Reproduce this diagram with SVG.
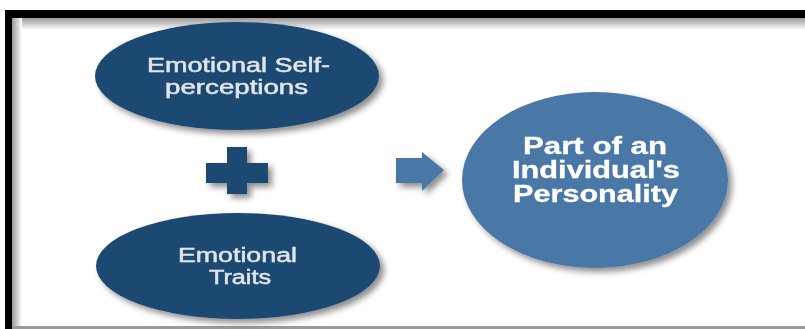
<svg xmlns="http://www.w3.org/2000/svg" width="805" height="329" viewBox="0 0 805 329">
<defs>
<linearGradient id="gt" x1="0" y1="0" x2="0" y2="1"><stop offset="0" stop-color="#9a9a9a"/><stop offset="1" stop-color="#ffffff"/></linearGradient>
<linearGradient id="gl" x1="0" y1="0" x2="1" y2="0"><stop offset="0" stop-color="#9a9a9a"/><stop offset="1" stop-color="#ffffff"/></linearGradient>
<filter id="sh" x="-20%" y="-20%" width="150%" height="150%"><feGaussianBlur in="SourceAlpha" stdDeviation="3"/><feOffset dx="4" dy="4"/><feComponentTransfer><feFuncA type="linear" slope="0.45"/></feComponentTransfer><feMerge><feMergeNode/><feMergeNode in="SourceGraphic"/></feMerge></filter>
<style>
.dark{fill:#1f4a72}
.light{fill:#4a77a6}
.t{font-family:"Liberation Sans",Arial,sans-serif;text-anchor:middle}
.tl{font-size:20px;fill:#e2e6ea;stroke:#e2e6ea;stroke-width:0.5}
.tb{font-size:23px;font-weight:bold;fill:#ffffff;stroke:#ffffff;stroke-width:0.3}
</style>
</defs>
<rect width="805" height="329" fill="#ffffff"/>
<rect x="12" y="18" width="793" height="12" fill="url(#gt)"/>
<rect x="12" y="18" width="10" height="311" fill="url(#gl)"/>
<rect x="5" y="10" width="800" height="8" fill="#000"/>
<rect x="5" y="10" width="7" height="319" fill="#000"/>
<rect x="12" y="326" width="793" height="3" fill="#9a9a9a"/>
<g id="node-selfperceptions" filter="url(#sh)">
<ellipse class="dark" cx="237" cy="76" rx="142" ry="54"/>
<g transform="translate(237.5,0) scale(1.36,1)">
<text class="t tl" x="0.7" y="72" textLength="134.6" lengthAdjust="spacingAndGlyphs">Emotional Self-</text>
<text class="t tl" x="-0.7" y="94" textLength="105.1" lengthAdjust="spacingAndGlyphs">perceptions</text>
</g>
</g>
<g id="node-plus" filter="url(#sh)">
<path class="dark" d="M227,147H247V163H268V183H247V194H227V183H206V163H227Z"/>
</g>
<g id="node-traits" filter="url(#sh)">
<ellipse class="dark" cx="238" cy="266" rx="142" ry="53"/>
<g transform="translate(238,0) scale(1.36,1)">
<text class="t tl" x="-0.4" y="262" textLength="87.5" lengthAdjust="spacingAndGlyphs">Emotional</text>
<text class="t tl" x="1.5" y="284" textLength="45.6" lengthAdjust="spacingAndGlyphs">Traits</text>
</g>
</g>
<g id="connectors" filter="url(#sh)">
<path class="light" d="M396,158H422V152L444,170L422,191V183H396Z"/>
</g>
<g id="node-personality" filter="url(#sh)">
<ellipse class="light" cx="595" cy="180" rx="133" ry="88"/>
<g transform="translate(595,0) scale(1.36,1)">
<text class="t tb" x="0" y="154" textLength="105.9" lengthAdjust="spacingAndGlyphs">Part of an</text>
<text class="t tb" x="0.7" y="178" textLength="123.5" lengthAdjust="spacingAndGlyphs">Individual's</text>
<text class="t tb" x="0.4" y="202" textLength="121.3" lengthAdjust="spacingAndGlyphs">Personality</text>
</g>
</g>
</svg>
